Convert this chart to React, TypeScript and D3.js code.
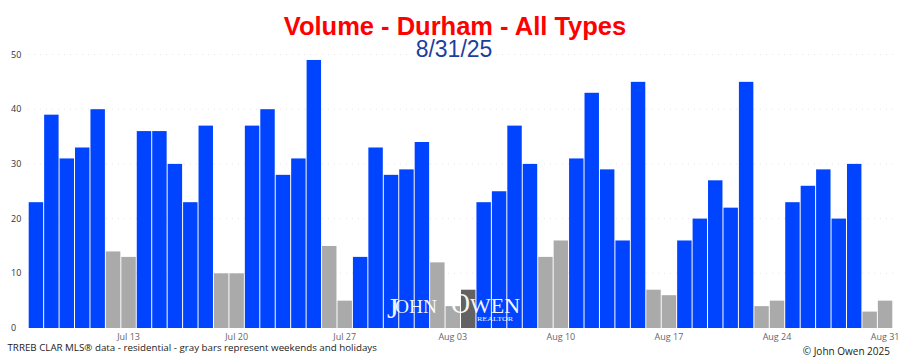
import React from "react";
import * as d3 from "d3";

const startDate = "2025-07-07";
const values: number[] = [
  23, 39, 31, 33, 40, 14, 13,
  36, 36, 30, 23, 37, 10, 10,
  37, 40, 28, 31, 49, 15, 5,
  13, 33, 28, 29, 34, 12, 4,
  7, 23, 25, 37, 30, 13, 16,
  31, 43, 29, 16, 45, 7, 6,
  16, 20, 27, 22, 45, 4, 5,
  23, 26, 29, 20, 30, 3, 5,
];
const holidays: string[] = ["2025-08-04"];
const yTicks: number[] = [0, 10, 20, 30, 40, 50];
const titleText = "Volume - Durham - All Types";
const subtitleText = "8/31/25";
const footText = "TRREB CLAR MLS® data - residential - gray bars represent weekends and holidays";
const copyText = "© John Owen 2025";

const W = 899;
const H = 364;

export default function App() {
  const start = new Date(startDate + "T00:00:00Z");
  const dates = values.map((_, i) => d3.utcDay.offset(start, i));
  const fmtKey = d3.utcFormat("%Y-%m-%d");
  const half = 12 * 3600 * 1000;
  const x = d3
    .scaleUtc()
    .domain([new Date(+dates[0] - half), new Date(+dates[dates.length - 1] + half)])
    .range([28.2, 892.8]);
  const y = d3.scaleLinear().domain([0, 50]).range([328, 54.5]);
  const step = x(dates[1]) - x(dates[0]);
  const ticks = d3.utcSunday.range(dates[1], d3.utcDay.offset(dates[dates.length - 1], 1));
  const fmtTick = d3.utcFormat("%b %d");

  const colorOf = (d: Date) => {
    if (holidays.includes(fmtKey(d))) return "#626262";
    const wd = d.getUTCDay();
    if (wd === 0 || wd === 6) return "#aaaaaa";
    return "#0044ff";
  };

  const serif = "'Liberation Serif', 'DejaVu Serif', serif";

  return (
    <svg width={W} height={H} style={{ position: "absolute", left: 0, top: 0, background: "#fff" }}>
      {/* grid */}
      {yTicks.slice(1).map((t) => (
        <line key={t} x1={28} x2={893} y1={y(t)} y2={y(t)} stroke="#e6e6e6" strokeWidth={1} strokeDasharray="1,5" />
      ))}
      {/* bars */}
      {dates.map((d, i) => (
        <rect
          key={i}
          x={x(d) - step / 2 + 0.5}
          y={y(values[i])}
          width={step - 1}
          height={y(0) - y(values[i])}
          fill={colorOf(d)}
        />
      ))}
      {/* y labels */}
      {yTicks.map((t) => (
        <text key={t} x={11} y={y(t)} dy="0.35em" fontSize={9} fontFamily="'Open Sans', sans-serif" fill="#333">
          {t}
        </text>
      ))}
      {/* x labels */}
      {ticks.map((t, i) => (
        <text key={i} x={x(t)} y={340} textAnchor="middle" fontSize={9} fontFamily="'Open Sans', sans-serif" fill="#666">
          {fmtTick(t)}
        </text>
      ))}
      {/* watermark */}
      <g fill="#fff" fontFamily={serif} opacity={0.95}>
        <text x={387} y={313}>
          <tspan fontSize={30} dy={5}>J</tspan>
          <tspan x={395} dy={-5} fontSize={19.5} textLength={42} lengthAdjust="spacingAndGlyphs">OHN</tspan>
          <tspan x={451} fontSize={29} textLength={19} lengthAdjust="spacingAndGlyphs">O</tspan>
          <tspan x={470} fontSize={21} textLength={50} lengthAdjust="spacingAndGlyphs">WEN</tspan>
        </text>
        <text x={477} y={320.5} fontSize={7} textLength={36} lengthAdjust="spacingAndGlyphs">REALTOR</text>
      </g>
      {/* titles */}
      <text x={455} y={35} textAnchor="middle" fontSize={25.5} fontWeight="bold" fontFamily="'Liberation Sans', Arial, sans-serif" fill="#ff0000">
        {titleText}
      </text>
      <text x={454} y={57} textAnchor="middle" fontSize={23} fontFamily="'Liberation Sans', Arial, sans-serif" fill="#1c3f9e">
        {subtitleText}
      </text>
      {/* footer */}
      <text x={7.5} y={351} fontSize={9.75} fontFamily="'Open Sans', sans-serif" fill="#222">
        {footText}
      </text>
      <text x={890} y={354.5} textAnchor="end" fontSize={10} fontFamily="'Open Sans', sans-serif" fill="#222">
        {copyText}
      </text>
    </svg>
  );
}
